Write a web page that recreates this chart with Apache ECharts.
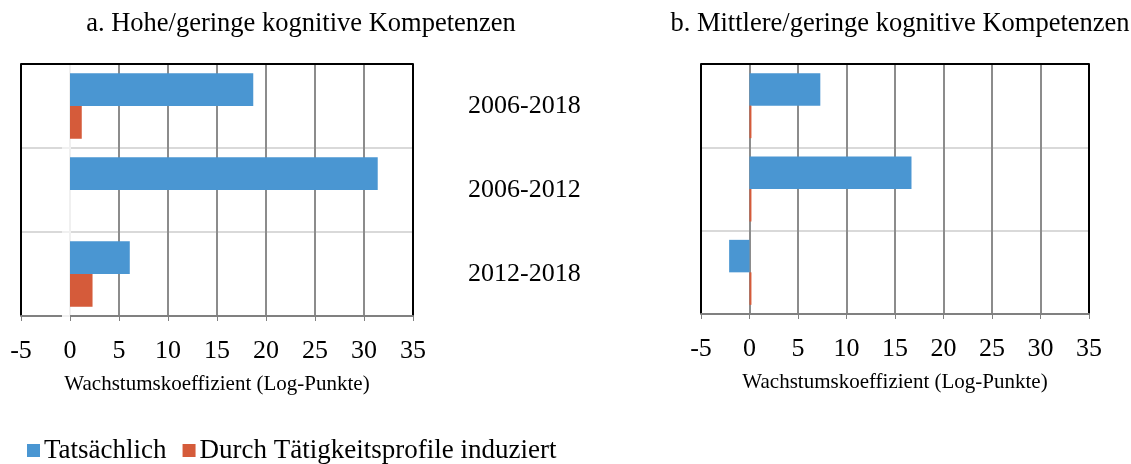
<!DOCTYPE html>
<html>
<head>
<meta charset="utf-8">
<script src="https://cdn.jsdelivr.net/npm/echarts@6/dist/echarts.min.js"></script>
<style>
  html, body { margin: 0; padding: 0; background: #fff; }
  #chart { width: 1131px; height: 464px; }
</style>
</head>
<body>
<div id="chart"></div>
<script>
// periods, top to bottom
const periods = ['2006-2018', '2006-2012', '2012-2018'];
const seriesNames = ['Tatsächlich', 'Durch Tätigkeitsprofile induziert'];

// a. Hohe/geringe kognitive Kompetenzen
const highActual = [18.7, 31.4, 6.1];
const highInduced = [1.2, 0, 2.3];

// b. Mittlere/geringe kognitive Kompetenzen
const midActual = [7.3, 16.7, -2.1];
const midInduced = [0.2, 0.2, 0.2];

const xTicks = { min: -5, max: 35, interval: 5 };
const axisName = 'Wachstumskoeffizient (Log-Punkte)';
const titles = ['a. Hohe/geringe kognitive Kompetenzen', 'b. Mittlere/geringe kognitive Kompetenzen'];

const font = '"Liberation Serif", "Times New Roman", serif';
const blue = '#4a96d2';
const orange = '#d55b3a';
const gridGray = '#8c8c8c';
// first and last vertical lines form the black frame of the plot
const vLineColors = ['#000', gridGray, gridGray, gridGray, gridGray, gridGray, gridGray, gridGray, '#000'];

function xAxis(gridIndex) {
  return {
    type: 'value',
    gridIndex,
    min: xTicks.min,
    max: xTicks.max,
    interval: xTicks.interval,
    name: axisName,
    nameLocation: 'middle',
    nameGap: 58,
    nameTextStyle: { fontFamily: font, fontSize: 21, color: '#000' },
    axisLine: { show: true, onZero: false, lineStyle: { color: '#808080', width: 2 } },
    axisTick: { show: true, length: 5, lineStyle: { color: '#808080', width: 1 } },
    axisLabel: { fontFamily: font, fontSize: 26, color: '#000', margin: 22 },
    splitLine: { show: true, lineStyle: { color: vLineColors, width: 2 } }
  };
}

function topFrame(gridIndex) {
  return {
    type: 'value',
    gridIndex,
    position: 'top',
    min: xTicks.min,
    max: xTicks.max,
    interval: xTicks.interval,
    z: 5,
    axisLine: { show: true, onZero: false, lineStyle: { color: '#000', width: 2 } },
    axisTick: { show: false },
    axisLabel: { show: false },
    splitLine: { show: false }
  };
}

const chart = echarts.init(document.getElementById('chart'));
chart.setOption({
  animation: false,
  title: [
    { text: titles[0], left: 296, top: 6, textAlign: 'center',
      textStyle: { fontFamily: font, fontSize: 26.5, fontWeight: 'normal', color: '#000' } },
    { text: titles[1], left: 895, top: 6, textAlign: 'center',
      textStyle: { fontFamily: font, fontSize: 26.5, fontWeight: 'normal', color: '#000' } }
  ],
  legend: {
    left: 27,
    top: 437,
    padding: 0,
    itemWidth: 13,
    itemHeight: 13,
    itemGap: 16,
    icon: 'rect',
    textStyle: { fontFamily: font, fontSize: 27, color: '#000', padding: [0, 0, 0, -1] },
    data: seriesNames
  },
  grid: [
    { left: 21, top: 64, width: 392, height: 252 },
    { left: 701, top: 64, width: 388, height: 250 }
  ],
  xAxis: [xAxis(0), xAxis(1), topFrame(0), topFrame(1)],
  yAxis: [
    {
      type: 'category', gridIndex: 0, data: periods, inverse: true,
      position: 'right',
      axisLine: { show: false, onZero: false },
      axisTick: { show: false },
      axisLabel: { fontFamily: font, fontSize: 26, color: '#000', margin: 55,
        padding: [6, 0, 0, 0] },
      splitLine: { show: true, lineStyle: { color: '#d9d9d9', width: 2 } }
    },
    {
      type: 'category', gridIndex: 0, data: periods, inverse: true,
      axisLine: { show: true, lineStyle: { color: '#f0f0f0', width: 2 } },
      axisTick: { show: true, length: 8, lineStyle: { color: '#f0f0f0', width: 2 } },
      axisLabel: { show: false },
      splitLine: { show: false }
    },
    {
      type: 'category', gridIndex: 1, data: periods, inverse: true,
      axisLine: { show: true, lineStyle: { color: gridGray, width: 2 } },
      axisTick: { show: false },
      axisLabel: { show: false },
      splitLine: { show: true, lineStyle: { color: '#d9d9d9', width: 2 } }
    }
  ],
  series: [
    { name: seriesNames[0], type: 'bar', xAxisIndex: 0, yAxisIndex: 1, data: highActual,
      itemStyle: { color: blue }, barGap: 0, barCategoryGap: '22%' },
    { name: seriesNames[1], type: 'bar', xAxisIndex: 0, yAxisIndex: 1, data: highInduced,
      itemStyle: { color: orange }, barGap: 0, barCategoryGap: '22%' },
    { name: seriesNames[0], type: 'bar', xAxisIndex: 1, yAxisIndex: 2, data: midActual,
      itemStyle: { color: blue }, barGap: 0, barCategoryGap: '22%' },
    { name: seriesNames[1], type: 'bar', xAxisIndex: 1, yAxisIndex: 2, data: midInduced,
      itemStyle: { color: orange }, barGap: 0, barCategoryGap: '22%' }
  ]
});
</script>
</body>
</html>
